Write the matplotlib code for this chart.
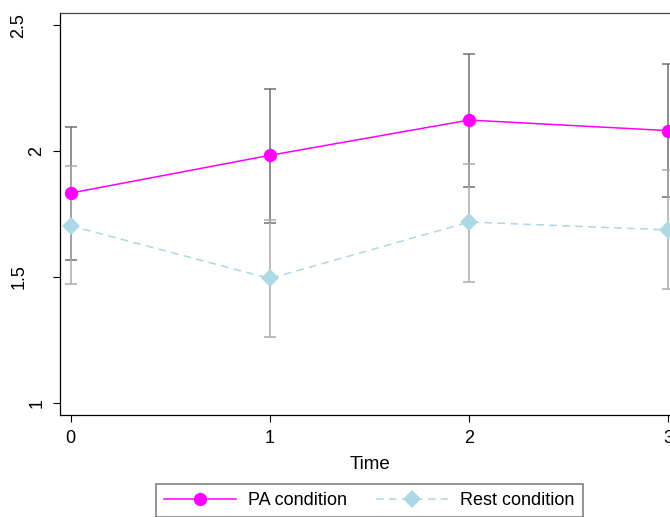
import matplotlib
matplotlib.use("Agg")
import matplotlib.pyplot as plt

plt.rcParams['font.family'] = ['Liberation Sans', 'DejaVu Sans']

time = [0, 1, 2, 3]
pa_mean = [1.833, 1.983, 2.123, 2.081]
pa_lo = [1.567, 1.716, 1.859, 1.818]
pa_hi = [2.097, 2.246, 2.385, 2.345]
rest_mean = [1.703, 1.494, 1.718, 1.687]
rest_lo = [1.473, 1.260, 1.481, 1.452]
rest_hi = [1.941, 1.728, 1.949, 1.923]
yticks = [1, 1.5, 2, 2.5]
ytick_labels = ["1", "1.5", "2", "2.5"]
xticks = [0, 1, 2, 3]

W, H = 670, 517
fig = plt.figure(figsize=(W / 100, H / 100), dpi=100)
left, right, top, bottom = 60, 679, 13, 415
ax = fig.add_axes([left / W, 1 - bottom / H, (right - left) / W, (bottom - top) / H])

pa_err = [[m - l for m, l in zip(pa_mean, pa_lo)], [h - m for m, h in zip(pa_mean, pa_hi)]]
rest_err = [[m - l for m, l in zip(rest_mean, rest_lo)], [h - m for m, h in zip(rest_mean, rest_hi)]]

ax.errorbar(time, pa_mean, yerr=pa_err, fmt='none', ecolor='#707070',
            elinewidth=1.1, capsize=4.3, capthick=1.1, zorder=2)
ax.errorbar(time, rest_mean, yerr=rest_err, fmt='none', ecolor='#ababab',
            elinewidth=1.1, capsize=4.3, capthick=1.1, zorder=2)

ax.plot(time, pa_mean, color='#ff00ff', lw=1.1, marker='o', markersize=9.6,
        markeredgewidth=0, label='PA condition', zorder=3)
ax.plot(time, rest_mean, color='#add8e6', lw=1.1, linestyle=(0, (5, 3.5)),
        marker='D', markersize=9.2, markeredgewidth=0, label='Rest condition', zorder=3)

ax.set_xlim(-0.053, 3.053)
ax.set_ylim(0.952, 2.548)
ax.set_xticks(xticks)
ax.set_xticklabels([str(t) for t in xticks])
ax.set_yticks(yticks)
ax.set_yticklabels(ytick_labels, rotation=90, va='center')

ax.tick_params(axis='both', direction='out', length=5, width=0.8, labelsize=13, colors='black')
ax.tick_params(axis='x', pad=5.5)
for tick, lab in zip(ax.yaxis.get_major_ticks(), ytick_labels):
    tick.set_pad(5.5 if len(lab) == 1 else 18.5)

ax.set_xlabel('Time', fontsize=13.5, labelpad=7)

for s in ['left', 'bottom']:
    ax.spines[s].set_color('black')
    ax.spines[s].set_linewidth(0.9)
ax.spines['top'].set_color('#444444')
ax.spines['top'].set_linewidth(0.9)
ax.spines['right'].set_color('#444444')

cx = ((left + right) / 2) / W
leg = fig.legend(loc='upper center', bbox_to_anchor=(cx, 1 - 484 / H), ncol=2,
                 fontsize=13, frameon=True, fancybox=False, borderaxespad=0,
                 handlelength=4.0, handletextpad=0.66, columnspacing=1.6,
                 borderpad=0.45, numpoints=1)
leg.get_frame().set_edgecolor('#555555')
leg.get_frame().set_linewidth(1.1)

fig.savefig('out.png', dpi=100)
